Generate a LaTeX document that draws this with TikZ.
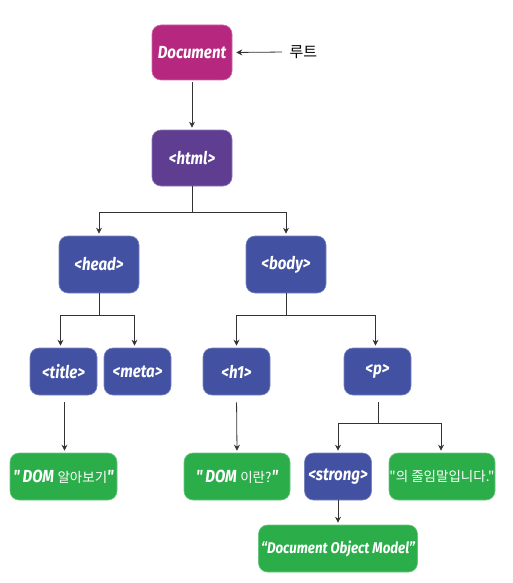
\documentclass[tikz,border=0pt]{standalone}
\usepackage{fontspec}
\setmainfont{Fira Sans}
\newfontfamily\cond[FakeStretch=0.86]{Fira Sans}
\newfontfamily\kr{Noto Sans CJK KR}
\usetikzlibrary{arrows.meta}
\definecolor{cdoc}{HTML}{B6287F}
\definecolor{chtml}{HTML}{5F3E92}
\definecolor{cel}{HTML}{4251A1}
\definecolor{ctxt}{HTML}{2BAE4A}
\definecolor{cline}{HTML}{333333}
\tikzset{
  box/.style={rounded corners=9pt, text=white, inner sep=0pt,
    font=\cond\bfseries\itshape\fontsize{17.5}{19}\selectfont},
  big/.style={box, minimum width=80pt, minimum height=56pt},
  small/.style={box, minimum width=67pt, minimum height=47pt},
  greenbox/.style={box, fill=ctxt, draw=ctxt!70!white, line width=0.6pt, minimum height=47pt},
  elem/.style={fill=cel, draw=cel!70!white, line width=0.6pt},
  conn/.style={draw=cline, line width=0.8pt},
  arr/.style={conn, -{Stealth[length=6pt,width=6pt]}, shorten >=2pt},
}
\newcommand{\korean}[1]{{\kr\upshape\mdseries\fontsize{13.5}{15}\selectfont #1}}
\begin{document}
\begin{tikzpicture}[x=1pt,y=-1pt]
\useasboundingbox (0,0) rectangle (512,583);
% nodes
\node[big, fill=cdoc, draw=cdoc!70!white, line width=0.6pt, minimum height=55pt] (doc) at (192,52.5) {Document};
\node[font=\kr\fontsize{15}{17}\selectfont, anchor=west] (root) at (286,52) {루트};
\node[big, fill=chtml, draw=chtml!70!white, line width=0.6pt] (html) at (192,158) {<html>};
\node[big, elem, minimum height=57pt] (head) at (99,264.5) {<head>};
\node[big, elem, minimum height=57pt] (body) at (286,264.5) {<body>};
\node[small, elem] (title) at (63.5,371.5) {<title>};
\node[small, elem] (meta) at (137.5,371.5) {<meta>};
\node[small, elem] (h1) at (236.5,371.5) {<h1>};
\node[small, elem] (p) at (377.5,371.5) {<p>};
\node[greenbox, minimum width=107pt] (t1) at (63.5,476.5) {"\,DOM \korean{알아보기}"};
\node[greenbox, minimum width=106pt] (t2) at (237,476.5) {"\,DOM \korean{이란?}"};
\node[small, elem] (strong) at (338,476.5) {<strong>};
\node[greenbox, minimum width=106pt] (t3) at (442,476.5) {\korean{"의 줄임말입니다."}};
\node[greenbox, minimum width=159pt, font=\cond\bfseries\itshape\fontsize{15.5}{17}\selectfont] (t4) at (338,548.5) {\textquotedblleft Document Object Model\textquotedblright};
% connectors
\draw[arr, shorten <=4pt, shorten >=4pt] (root.west) -- (doc.east);
\draw[arr, shorten <=2pt] (doc.south) -- (html.north);
\coordinate (j1) at (192,212);
\draw[conn] (html.south) -- (j1);
\draw[arr] (j1) -| (head.north);
\draw[arr] (j1) -| (body.north);
\coordinate (j2) at (99,315);
\draw[conn] (head.south) -- (j2);
\draw[arr] (j2) -| ([xshift=-3pt]title.north);
\draw[arr] (j2) -| ([xshift=-3pt]meta.north);
\coordinate (j3) at (286,315);
\draw[conn] (body.south) -- (j3);
\draw[arr] (j3) -| (h1.north);
\draw[arr] (j3) -| ([xshift=-2pt]p.north);
\draw[arr, shorten <=7pt] ([xshift=1pt]title.south) -- ([xshift=1pt]t1.north);
\draw[arr, shorten <=7pt] (h1.south) -- (t2.north);
\coordinate (j4) at (378,423);
\draw[conn, shorten <=7pt] ([xshift=0.5pt]p.south) -- (j4);
\draw[arr] (j4) -| (strong.north);
\draw[arr] (j4) -| ([xshift=-1pt]t3.north);
\draw[arr] (strong.south) -- (t4.north);
\end{tikzpicture}
\end{document}
